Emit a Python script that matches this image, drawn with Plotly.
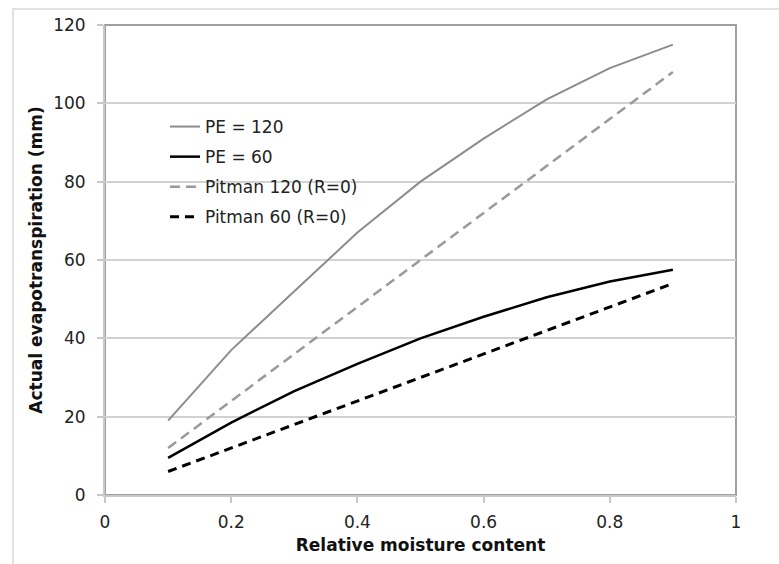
import plotly.graph_objects as go

moisture = [0.1, 0.2, 0.3, 0.4, 0.5, 0.6, 0.7, 0.8, 0.9]
pe120 = [19, 37, 52, 67, 80, 91, 101, 109, 115]
pe60 = [9.5, 18.5, 26.5, 33.5, 40, 45.5, 50.5, 54.5, 57.5]
pitman120 = [12, 24, 36, 48, 60, 72, 84, 96, 108]
pitman60 = [6, 12, 18, 24, 30, 36, 42, 48, 54]
x_ticks = [0, 0.2, 0.4, 0.6, 0.8, 1]
x_tick_text = ["0", "0.2", "0.4", "0.6", "0.8", "1"]
y_ticks = [0, 20, 40, 60, 80, 100, 120]

W, H = 779, 564
ML, MR, MT, MB = 105, 43, 25, 69
FONT = "DejaVu Sans, Arial, sans-serif"

fig = go.Figure()
series = [
    ("PE = 120", pe120, "#8c8c8c", 2, "solid"),
    ("PE = 60", pe60, "#000000", 2.5, "solid"),
    ("Pitman 120 (R=0)", pitman120, "#9a9a9a", 2.5, "10px,6px"),
    ("Pitman 60 (R=0)", pitman60, "#000000", 3, "9px,6px"),
]
for i, (name, ys, col, w, dash) in enumerate(series):
    fig.add_trace(go.Scatter(
        x=moisture, y=ys, mode="lines", name=name, legendgroup=f"g{i}",
        line=dict(color=col, width=w, dash=dash),
    ))

pw = W - ML - MR
ph = H - MT - MB

def px_x(p):
    return (p - ML) / pw

def px_y(p):
    return (H - MB - p) / ph

# outer chart frame (cut off at right/bottom)
fig.add_shape(type="rect", xref="paper", yref="paper",
              x0=px_x(13), x1=px_x(W + 10), y0=px_y(H + 10), y1=px_y(9),
              line=dict(color="#e2e2e2", width=2), layer="below")
# plot area box
fig.add_shape(type="rect", xref="paper", yref="paper",
              x0=0, x1=1, y0=0, y1=1,
              line=dict(color="#a0a0a0", width=2), layer="below")

fig.update_layout(
    width=W, height=H,
    margin=dict(l=ML, r=MR, t=MT, b=MB),
    paper_bgcolor="white", plot_bgcolor="white",
    font=dict(family=FONT, color="#222222"),
    showlegend=True,
    legend=dict(
        x=px_x(165), y=px_y(109), xanchor="left", yanchor="top",
        font=dict(size=17, color="#222222", family=FONT),
        bgcolor="rgba(0,0,0,0)", tracegroupgap=5, traceorder="grouped",
        itemwidth=30,
    ),
    xaxis=dict(
        range=[0, 1], tickvals=x_ticks, ticktext=x_tick_text,
        showgrid=False, zeroline=False,
        showline=True, linecolor="#c8c8c8", linewidth=2,
        ticks="outside", ticklen=6, tickcolor="#c8c8c8", tickwidth=1.5,
        tickfont=dict(size=17, color="#222222"),
        ticklabelstandoff=5,
        title=dict(text="<b>Relative moisture content</b>",
                   font=dict(size=17, color="#111111"), standoff=8),
    ),
    yaxis=dict(
        range=[0, 120], tickvals=y_ticks,
        showgrid=True, gridcolor="#d2d2d2", gridwidth=1.5, zeroline=False,
        showline=True, linecolor="#c8c8c8", linewidth=2,
        ticks="outside", ticklen=6, tickcolor="#c8c8c8", tickwidth=1.5,
        tickfont=dict(size=17, color="#222222"),
        ticklabelstandoff=8,
        title=dict(text="<b>Actual evapotranspiration (mm)</b>",
                   font=dict(size=17, color="#111111"), standoff=6),
    ),
)

fig.write_html("out.html")
